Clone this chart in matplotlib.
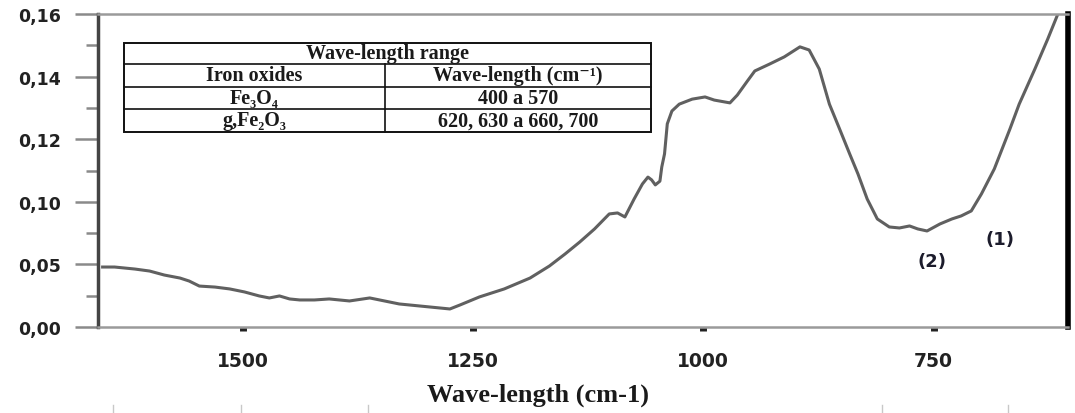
import numpy as np
import matplotlib
matplotlib.use("Agg")
import matplotlib.pyplot as plt
from matplotlib.lines import Line2D
from matplotlib.patches import Rectangle

# ---- data (wavenumber cm-1, absorbance) ----
wavenumber = [1652, 1639, 1617, 1601, 1585, 1568, 1558, 1547, 1530, 1514,
              1498, 1482, 1471, 1460, 1449, 1438, 1422, 1406, 1384, 1362,
              1346, 1330, 1308, 1286, 1275, 1264, 1243, 1216, 1188, 1167,
              1150, 1134, 1118, 1102, 1093, 1085, 1075, 1066, 1060, 1056,
              1052, 1047, 1045, 1042, 1039, 1034, 1026, 1012, 998, 988,
              971, 963, 952, 944, 928, 912, 895, 885, 874, 863,
              852, 841, 832, 822, 811, 798, 787, 776, 767, 757,
              743, 730, 720, 709, 698, 684, 667, 657, 640, 626, 615]
absorbance = [0.0479, 0.0479, 0.0463, 0.0447, 0.0415, 0.0391, 0.0367, 0.0327, 0.0319, 0.0304,
              0.0280, 0.0248, 0.0232, 0.0248, 0.0224, 0.0216, 0.0216, 0.0224, 0.0208, 0.0232,
              0.0208, 0.0184, 0.0168, 0.0152, 0.0144, 0.0176, 0.0240, 0.0304, 0.0391, 0.0487,
              0.0583, 0.0679, 0.0783, 0.0903, 0.0911, 0.0879, 0.1009, 0.1057, 0.1079, 0.1070,
              0.1054, 0.1066, 0.1111, 0.1153, 0.1249, 0.1290, 0.1312, 0.1328, 0.1335, 0.1325,
              0.1316, 0.1341, 0.1386, 0.1418, 0.1440, 0.1463, 0.1495, 0.1485, 0.1424, 0.1312,
              0.1233, 0.1153, 0.1089, 0.1009, 0.0863, 0.0799, 0.0791, 0.0807, 0.0783, 0.0767,
              0.0823, 0.0863, 0.0887, 0.0927, 0.1025, 0.1105, 0.1233, 0.1312, 0.1424, 0.1520, 0.1600]

y_tick_values = [0.00, 0.05, 0.10, 0.12, 0.14, 0.16]
y_tick_labels = ["0,00", "0,05", "0,10", "0,12", "0,14", "0,16"]
y_minor_values = [0.025, 0.075, 0.11, 0.13, 0.15]
x_tick_values = [1500, 1250, 1000, 750]
x_tick_labels = ["1500", "1250", "1000", "750"]

table_header = "Wave-length range"
table_columns = ["Iron oxides", "Wave-length (cm\u207b\u00b9)"]
table_rows = [["Fe\u2083O\u2084", "400 a 570"],
              ["g,Fe\u2082O\u2083", "620, 630 a 660, 700"]]

# ---- figure ----
W, H = 1075, 414
fig = plt.figure(figsize=(W / 100, H / 100), dpi=100)
fig.patch.set_facecolor("white")
ax = fig.add_axes([98 / W, 1 - 328 / H, (1068 - 98) / W, (328 - 15) / H])

pos = np.arange(len(y_tick_values), dtype=float)
fwd = lambda v: np.interp(v, y_tick_values, pos)
inv = lambda p: np.interp(p, pos, y_tick_values)
ax.set_yscale("function", functions=(fwd, inv))

ax.plot(wavenumber, absorbance, color="#606060", lw=2.2, solid_joinstyle="round")
ax.set_xlim(1657, 604)
ax.set_ylim(0, 0.16)

ax.set_yticks(y_tick_values)
ax.set_yticklabels(y_tick_labels)
ax.set_yticks(y_minor_values, minor=True)
ax.set_xticks(x_tick_values)
ax.set_xticklabels(x_tick_labels)
ax.xaxis.set_minor_locator(matplotlib.ticker.NullLocator())

for lab in ax.get_yticklabels():
    lab.set_fontweight("bold")
for lab in ax.get_xticklabels():
    lab.set_fontweight("bold")

ax.tick_params(axis="y", which="major", length=16.5, width=1.8, color="#8a8a8a",
               labelsize=12.5, labelcolor="#222222", pad=10)
ax.tick_params(axis="y", which="minor", length=9, width=1.8, color="#8a8a8a")
ax.tick_params(axis="x", which="major", length=3, width=5, color="#222222",
               labelsize=13.5, labelcolor="#222222", pad=14, direction="out")

ax.spines["left"].set_color("#444444")
ax.spines["left"].set_linewidth(2.5)
ax.spines["top"].set_color("#9a9a9a")
ax.spines["top"].set_linewidth(1.8)
ax.spines["bottom"].set_color("#9a9a9a")
ax.spines["bottom"].set_linewidth(1.8)
ax.spines["right"].set_color("#000000")
ax.spines["right"].set_linewidth(4)

# x label
fig.text(538 / W, 1 - 395 / H, "Wave-length (cm-1)", ha="center", va="center",
         fontsize=19, fontweight="bold", family=["Liberation Serif", "DejaVu Serif"],
         color="#1a1a1a")

# peak annotations
ax.annotate("(1)", xy=(1000 / W, 1 - 240 / H), xycoords="figure fraction",
            ha="center", va="center", fontsize=13, fontweight="bold", color="#1c1c2c")
ax.annotate("(2)", xy=(932 / W, 1 - 262 / H), xycoords="figure fraction",
            ha="center", va="center", fontsize=13, fontweight="bold", color="#1c1c2c")

# faint marks along bottom edge
for px in [113, 241, 368, 882, 1008]:
    fig.add_artist(Line2D([px / W, px / W], [0, 8 / H], color="#c8c8c8", lw=1,
                          transform=fig.transFigure))

# table (figure pixel layout)
tx0, tx1, txm = 124, 651, 385
ty = [44, 65, 88, 110, 133]
tf = fig.transFigure
def fx(px):
    return px / W
def fy(py):
    return 1 - py / H
fig.add_artist(Rectangle((fx(tx0), fy(ty[-1])), fx(tx1) - fx(tx0), fy(ty[0]) - fy(ty[-1]),
                         transform=tf, facecolor="white", edgecolor="#111111", lw=1.4))
for yy in ty[1:-1]:
    fig.add_artist(Line2D([fx(tx0), fx(tx1)], [fy(yy), fy(yy)], color="#111111", lw=1.2, transform=tf))
fig.add_artist(Line2D([fx(txm), fx(txm)], [fy(ty[1]), fy(ty[-1])], color="#111111", lw=1.2, transform=tf))

serif = ["Liberation Serif", "DejaVu Serif"]
tkw = dict(ha="center", va="center", fontsize=14.5, fontweight="bold", family=serif,
           color="#1a1a1a", transform=tf)
fig.text(fx((tx0 + tx1) / 2), fy((ty[0] + ty[1]) / 2), table_header, **tkw)
fig.text(fx((tx0 + txm) / 2), fy((ty[1] + ty[2]) / 2), table_columns[0], **tkw)
fig.text(fx((txm + tx1) / 2), fy((ty[1] + ty[2]) / 2), table_columns[1], **tkw)
for i, row in enumerate(table_rows):
    yc = fy((ty[2 + i] + ty[3 + i]) / 2)
    fig.text(fx((tx0 + txm) / 2), yc, row[0], **tkw)
    fig.text(fx((txm + tx1) / 2), yc, row[1], **tkw)

fig.savefig("out.png", dpi=100, facecolor="white")
